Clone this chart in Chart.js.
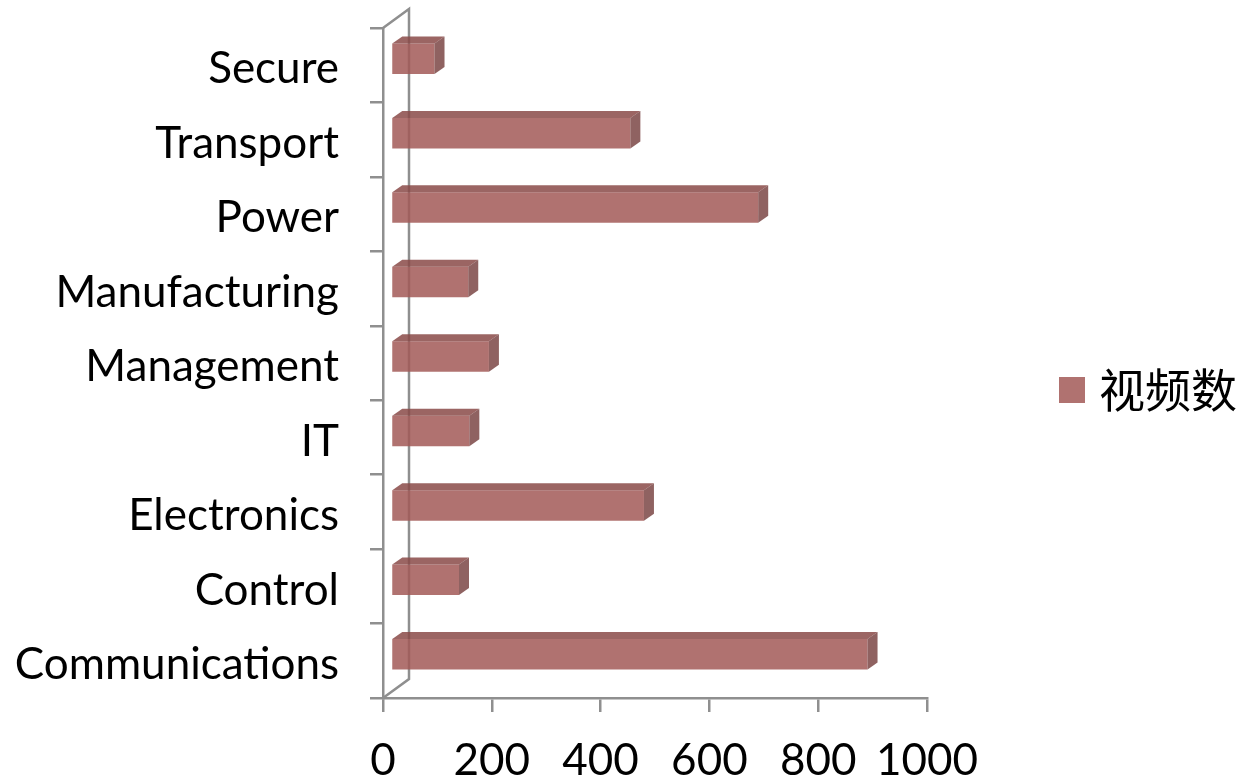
<!DOCTYPE html>
<html>
<head>
<meta charset="utf-8">
<title>视频数</title>
<script src="https://cdn.jsdelivr.net/npm/chart.js"></script>
<style>
    body { margin: 0; background: #fff; }
    .wrap { width: 1246px; height: 780px; position: relative; }
</style>
</head>
<body>
<div class="wrap"><canvas id="chart"></canvas></div>
<script>
// data, listed bottom to top as in the original sheet
const categories = ['Communications', 'Control', 'Electronics', 'IT', 'Management',
                    'Manufacturing', 'Power', 'Transport', 'Secure'];
const videoCounts = [876, 125, 465, 144, 180, 142, 675, 440, 80];
const seriesName = '视频数';
const xTicks = [0, 200, 400, 600, 800, 1000];

// look
const AXIS_COLOR = '#8f8f8f';
const AXIS_WIDTH = 2.5;
const FRONT = 'rgba(162,89,87,0.85)';
const TOP = 'rgba(137,74,72,0.85)';
const SIDE = 'rgba(123,70,69,0.85)';
const LEGEND_SWATCH = '#b07270';
const WALL_DX = 26, WALL_DY = -19;   // depth of the back wall
const BAR_DX = 10, BAR_DY = -7;      // depth of each bar
const SHIFT_X = 8, SHIFT_Y = -6.5;   // bars sit a bit behind the front plane

// fake 3D: back wall, bar tops and sides
const depth3d = {
    id: 'depth3d',
    beforeDatasetsDraw(chart) {
        const { ctx, chartArea: a } = chart;
        ctx.save();
        ctx.strokeStyle = AXIS_COLOR;
        ctx.lineWidth = AXIS_WIDTH;
        ctx.beginPath();
        ctx.moveTo(a.left, a.top);
        ctx.lineTo(a.left + WALL_DX, a.top + WALL_DY);
        ctx.lineTo(a.left + WALL_DX, a.bottom + WALL_DY);
        ctx.lineTo(a.left, a.bottom);
        ctx.stroke();
        ctx.restore();

        ctx.save();
        ctx.translate(SHIFT_X, SHIFT_Y);
    },
    afterDatasetsDraw(chart) {
        const ctx = chart.ctx;
        chart.getDatasetMeta(0).data.forEach(bar => {
            const { x, y, base, height } = bar.getProps(['x', 'y', 'base', 'height'], true);
            const top = y - height / 2;
            const bottom = y + height / 2;

            ctx.fillStyle = TOP;
            ctx.beginPath();
            ctx.moveTo(base, top);
            ctx.lineTo(base + BAR_DX, top + BAR_DY);
            ctx.lineTo(x + BAR_DX, top + BAR_DY);
            ctx.lineTo(x, top);
            ctx.closePath();
            ctx.fill();

            ctx.fillStyle = SIDE;
            ctx.beginPath();
            ctx.moveTo(x, top);
            ctx.lineTo(x + BAR_DX, top + BAR_DY);
            ctx.lineTo(x + BAR_DX, bottom + BAR_DY);
            ctx.lineTo(x, bottom);
            ctx.closePath();
            ctx.fill();
        });
        ctx.restore();
    }
};

// legend on the right
const sideLegend = {
    id: 'sideLegend',
    afterDraw(chart) {
        const { ctx, chartArea: a } = chart;
        const lx = a.right + 132;
        const ly = 390;
        ctx.save();
        ctx.fillStyle = LEGEND_SWATCH;
        ctx.fillRect(lx, ly - 13, 26, 26);
        ctx.fillStyle = '#000';
        ctx.font = '46px "Noto Sans CJK SC"';
        ctx.textBaseline = 'middle';
        ctx.textAlign = 'left';
        ctx.fillText(chart.data.datasets[0].label, lx + 40, ly);
        ctx.restore();
    }
};

new Chart(document.getElementById('chart'), {
    type: 'bar',
    data: {
        labels: categories,
        datasets: [{
            label: seriesName,
            data: videoCounts,
            backgroundColor: FRONT,
            borderWidth: 0,
            categoryPercentage: 1,
            barPercentage: 0.41,
            clip: false
        }]
    },
    options: {
        indexAxis: 'y',
        responsive: true,
        maintainAspectRatio: false,
        animation: false,
        layout: { padding: { left: 0, top: 28, right: 319, bottom: 0 } },
        plugins: {
            legend: { display: false },
            tooltip: { enabled: false }
        },
        scales: {
            x: {
                min: xTicks[0],
                max: xTicks[xTicks.length - 1],
                afterBuildTicks: s => { s.ticks = xTicks.map(v => ({ value: v })); },
                afterFit: s => { s.height = 82; s.paddingLeft = 0; s.paddingRight = 0; },
                grid: { drawOnChartArea: false, drawTicks: true, tickLength: 14, color: AXIS_COLOR, lineWidth: AXIS_WIDTH },
                border: { display: true, color: AXIS_COLOR, width: AXIS_WIDTH },
                ticks: { color: '#000', padding: 22, maxRotation: 0, minRotation: 0, autoSkip: false,
                         callback: v => String(v),
                         font: { family: 'Lato', size: 44 } }
            },
            y: {
                reverse: true,
                afterFit: s => { s.width = 383; s.paddingTop = 0; s.paddingBottom = 0; },
                grid: { drawOnChartArea: false, drawTicks: true, tickLength: 13, color: AXIS_COLOR, lineWidth: AXIS_WIDTH },
                border: { display: true, color: AXIS_COLOR, width: AXIS_WIDTH },
                ticks: { color: '#000', padding: 31, labelOffset: 4, font: { family: 'Lato', size: 44 } }
            }
        }
    },
    plugins: [depth3d, sideLegend]
});
</script>
</body>
</html>
